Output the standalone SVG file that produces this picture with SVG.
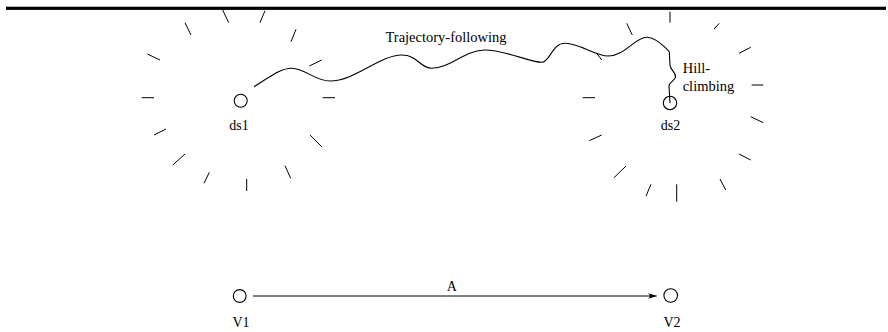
<svg xmlns="http://www.w3.org/2000/svg" width="888" height="332" viewBox="0 0 888 332">
<style>
.t{stroke:#000;stroke-width:1;fill:none;stroke-linecap:butt}
.c{stroke:#000;stroke-width:1.1;fill:none}
.lbl{font-family:"Liberation Serif","Times New Roman",serif;fill:#000;text-anchor:middle}
.st{text-anchor:start}
.w{stroke:#000;stroke-width:1.1;fill:none}
</style>
<defs>
<marker id="ah" markerUnits="userSpaceOnUse" markerWidth="12" markerHeight="8" refX="9" refY="4" orient="auto">
<path d="M9,4 L0.5,1.3 L2.5,4 L0.5,6.7 Z" fill="#000"/>
</marker>
</defs>
<rect x="6" y="6.7" width="880" height="3.2" fill="#000"/>
<g id="ticks-ds1" class="t">
<line x1="222.7" y1="10" x2="228.7" y2="22.7"/>
<line x1="265" y1="10.7" x2="260" y2="22.7"/>
<line x1="185" y1="22.7" x2="191" y2="35"/>
<line x1="296" y1="29.3" x2="291" y2="41.7"/>
<line x1="147.3" y1="54" x2="160" y2="60"/>
<line x1="321.7" y1="60" x2="309.3" y2="66"/>
<line x1="141.7" y1="97.7" x2="154" y2="97.7"/>
<line x1="322.7" y1="97.7" x2="335" y2="97.7"/>
<line x1="154" y1="135" x2="166" y2="129"/>
<line x1="310" y1="135" x2="321.7" y2="146.7"/>
<line x1="172.7" y1="165" x2="185" y2="154"/>
<line x1="285" y1="165.7" x2="290.7" y2="178.3"/>
<line x1="204" y1="183.3" x2="209.3" y2="172.3"/>
<line x1="246.7" y1="179" x2="246.7" y2="191"/>
</g>
<g id="ticks-ds2" class="t">
<line x1="670" y1="11.7" x2="670" y2="22.7"/>
<line x1="719.3" y1="23.3" x2="714" y2="29"/>
<line x1="626.7" y1="23.3" x2="632.3" y2="35"/>
<line x1="750.7" y1="47.3" x2="739" y2="53.3"/>
<line x1="596.7" y1="53.3" x2="601.7" y2="60"/>
<line x1="751.7" y1="85" x2="763.3" y2="85"/>
<line x1="582.7" y1="97.7" x2="595" y2="97.7"/>
<line x1="750.7" y1="116.7" x2="763.3" y2="122.7"/>
<line x1="589.3" y1="140.7" x2="601.7" y2="135"/>
<line x1="739" y1="154" x2="750.7" y2="160"/>
<line x1="614" y1="177.7" x2="626" y2="166"/>
<line x1="720" y1="179" x2="725.7" y2="190"/>
<line x1="646" y1="196" x2="651" y2="184.3"/>
<line x1="676.7" y1="184.3" x2="676.7" y2="201.7"/>
</g>
<g id="connectors">
<path id="trajectory" class="w" d="M254,86.7 C270,77 280,68.3 291.7,68.3 C305,68.3 315,81 330,81 C355,81 380,55 401.7,55 C418,55 420,68.3 431.7,68.3 C450,68.3 465,50 485,50 C505,50 530,62.3 541.7,62.3 C550,62.3 552,43.3 565,43.3 C580,43.3 595,56 608.3,56 C625,56 635,37.3 646.7,37.3 C655,37.3 663,45 669.3,51.7"/>
<path id="hill-climbing" class="w" d="M669.3,51.7 L670,65 C670,70 676,72 675.5,77 C675,81 669,82 669,86 L670,103"/>
<line id="arrow-A" x1="253" y1="296" x2="656.7" y2="296" stroke="#000" stroke-width="1" marker-end="url(#ah)"/>
<text class="lbl" x="446" y="41.7" font-size="14.5">Trajectory-following</text>
<text class="lbl st" x="682.7" y="73" font-size="14.5">Hill-</text>
<text class="lbl st" x="682.7" y="91" font-size="14.5">climbing</text>
<text class="lbl" x="451.7" y="290.7" font-size="14">A</text>
</g>
<g id="ds1">
<circle class="c" cx="240.7" cy="100.7" r="6.5"/>
<text class="lbl" x="239" y="130" font-size="14">ds1</text>
</g>
<g id="ds2">
<circle class="c" cx="670" cy="103" r="6.7"/>
<text class="lbl" x="670.5" y="130" font-size="14">ds2</text>
</g>
<g id="V1">
<circle class="c" cx="239.7" cy="296" r="6.4"/>
<text class="lbl" x="241" y="326.5" font-size="14">V1</text>
</g>
<g id="V2">
<circle class="c" cx="670.7" cy="295.5" r="6.8"/>
<text class="lbl" x="672" y="327" font-size="14">V2</text>
</g>
</svg>
